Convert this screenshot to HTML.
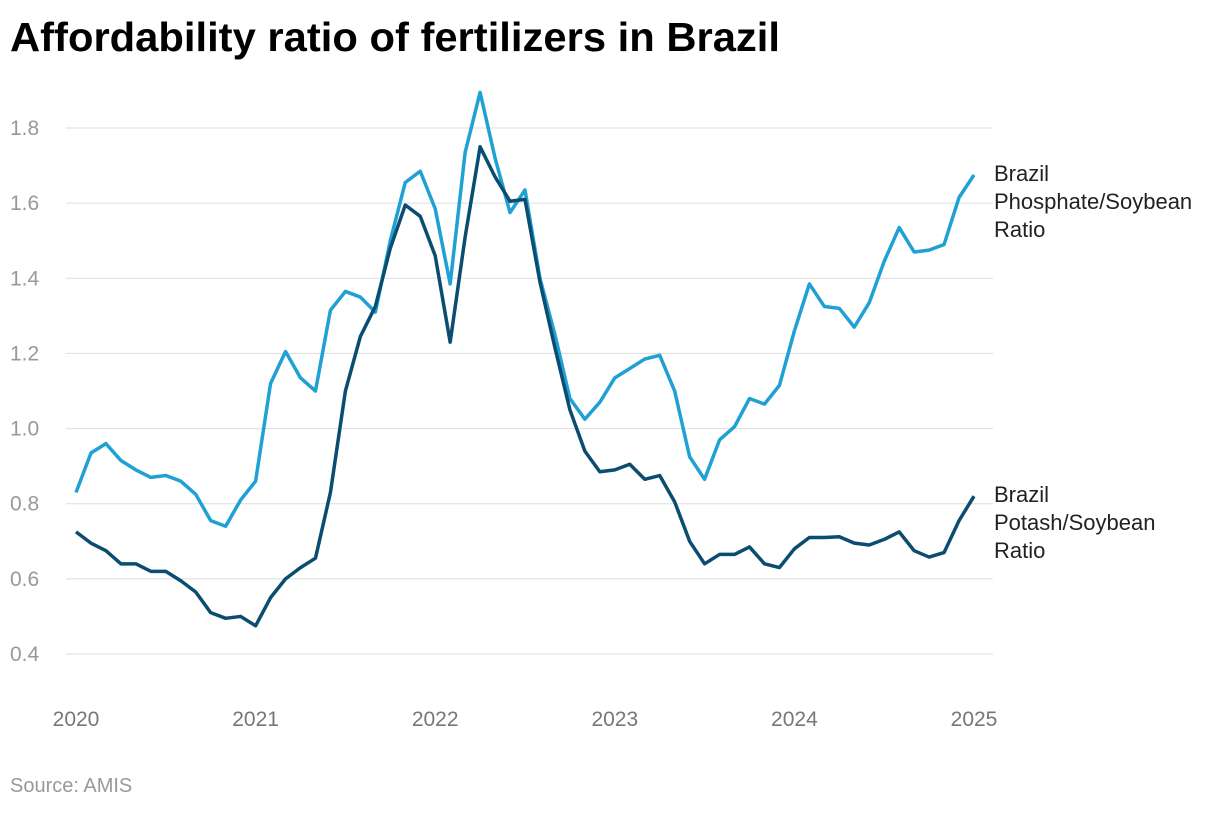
<!DOCTYPE html>
<html><head><meta charset="utf-8"><style>
body{margin:0;background:#fff;width:1220px;height:808px;overflow:hidden;font-family:"Liberation Sans",sans-serif}
</style></head><body>
<svg id="chart" width="1220" height="808" xmlns="http://www.w3.org/2000/svg">
<text x="10" y="51" font-size="41" font-weight="bold" fill="#000" textLength="770" lengthAdjust="spacingAndGlyphs">Affordability ratio of fertilizers in Brazil</text>
<g id="grid"></g><g id="lines"></g><g id="labels"></g>
<text x="10" y="792" font-size="20" fill="#999">Source: AMIS</text>
</svg>
<script>
const yTicks=[0.4,0.6,0.8,1.0,1.2,1.4,1.6,1.8];
const xTicks=[2020,2021,2022,2023,2024,2025];
const phosphate=[0.83,0.935,0.96,0.915,0.89,0.87,0.875,0.86,0.825,0.755,0.74,0.81,
0.86,1.12,1.205,1.135,1.1,1.315,1.365,1.35,1.31,1.5,1.655,1.685,
1.585,1.385,1.735,1.895,1.72,1.575,1.635,1.4,1.25,1.08,1.025,1.07,
1.135,1.16,1.185,1.195,1.1,0.925,0.865,0.97,1.005,1.08,1.065,1.115,
1.26,1.385,1.325,1.32,1.27,1.335,1.445,1.535,1.47,1.475,1.49,1.615,1.675];
const potash=[0.725,0.695,0.675,0.64,0.64,0.62,0.62,0.595,0.565,0.51,0.495,0.5,
0.475,0.55,0.6,0.63,0.655,0.83,1.1,1.245,1.325,1.48,1.595,1.565,
1.46,1.23,1.51,1.75,1.67,1.605,1.61,1.39,1.215,1.05,0.94,0.885,
0.89,0.905,0.865,0.875,0.805,0.7,0.64,0.665,0.665,0.685,0.64,0.63,
0.68,0.71,0.71,0.712,0.695,0.69,0.705,0.725,0.675,0.658,0.67,0.755,0.82];
const NS="http://www.w3.org/2000/svg";
const x=i=>76+i*(974-76)/60;
const xYear=yr=>76+(yr-2020)*(974-76)/5;
const y=v=>654-(v-0.4)*(654-128)/1.4;
const grid=document.getElementById('grid');
yTicks.forEach(t=>{
 const l=document.createElementNS(NS,'line');
 
 
 l.setAttribute('x1',66);l.setAttribute('x2',993);l.setAttribute('y1',y(t));l.setAttribute('y2',y(t));
 l.setAttribute('stroke','#ddd');l.setAttribute('stroke-width',1);grid.appendChild(l);
 const tx=document.createElementNS(NS,'text');
 
 
 tx.setAttribute('x',10);tx.setAttribute('y',y(t)+7);tx.setAttribute('font-size',21);tx.setAttribute('fill','#999');
 tx.textContent=t.toFixed(1);grid.appendChild(tx);
});
xTicks.forEach(t=>{
 const tx=document.createElementNS(NS,'text');
 
 
 tx.setAttribute('x',xYear(t));tx.setAttribute('y',726);tx.setAttribute('font-size',21);tx.setAttribute('fill','#777');
 tx.setAttribute('text-anchor','middle');tx.textContent=t;grid.appendChild(tx);
});
function draw(arr,color,name){
 const p=document.createElementNS(NS,'polyline');
 
 
 p.setAttribute('points',arr.map((v,i)=>x(i)+','+y(v)).join(' '));
 p.setAttribute('fill','none');p.setAttribute('stroke',color);p.setAttribute('stroke-width',3.5);
 p.setAttribute('stroke-linejoin','round');
 document.getElementById('lines').appendChild(p);
}
draw(phosphate,'#1fa1d4','phosphate-line');
draw(potash,'#0a4d70','potash-line');
function label(lines,v,name){
 const tx=document.createElementNS(NS,'text');
 
 
 tx.setAttribute('font-size',22);tx.setAttribute('fill','#222');
 const y0=y(v)+6;
 lines.forEach((s,k)=>{const ts=document.createElementNS(NS,'tspan');ts.setAttribute('x',994);ts.setAttribute('y',y0+k*28);ts.textContent=s;tx.appendChild(ts);});
 document.getElementById('labels').appendChild(tx);
}
label(['Brazil','Phosphate/Soybean','Ratio'],phosphate[phosphate.length-1],'phosphate-label');
label(['Brazil','Potash/Soybean','Ratio'],potash[potash.length-1],'potash-label');
</script>
</body></html>
